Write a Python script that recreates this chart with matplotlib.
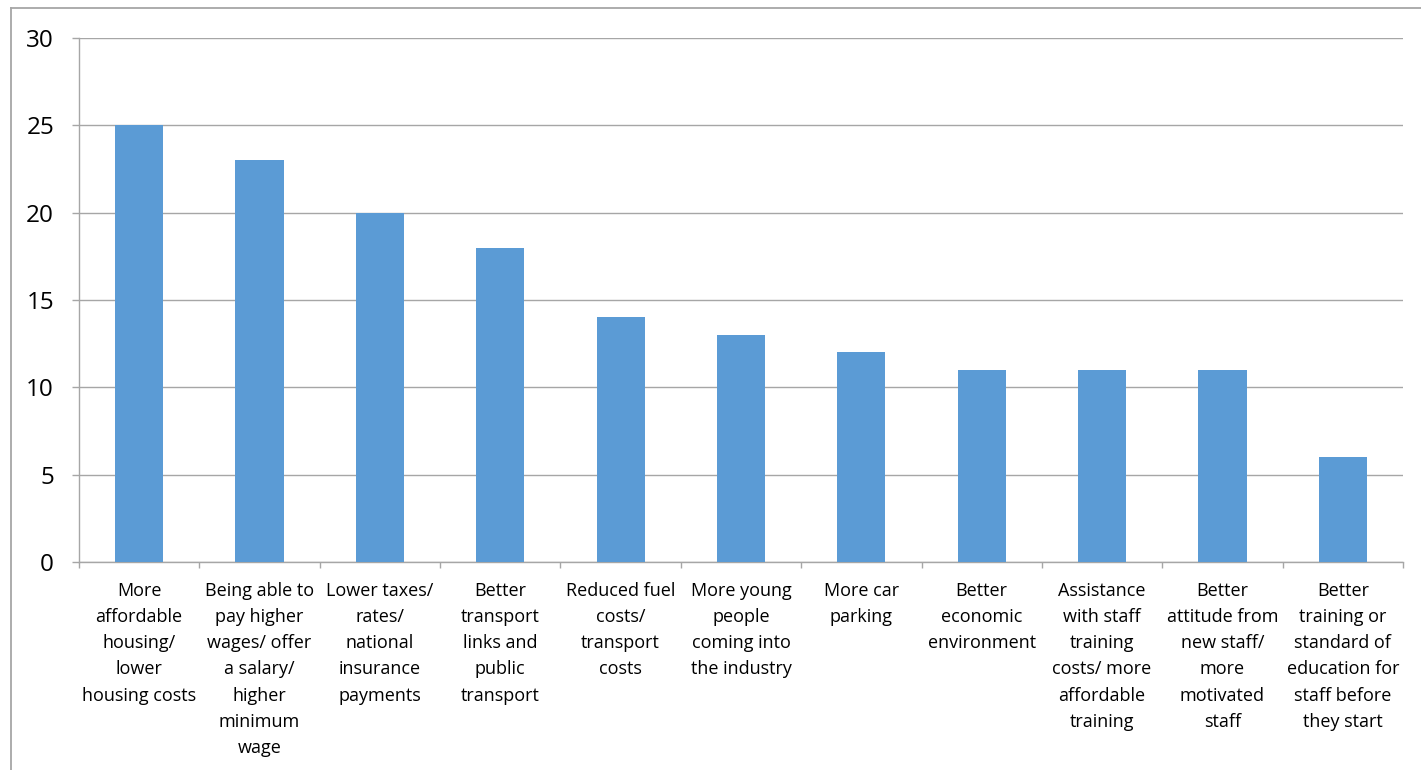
import matplotlib
matplotlib.use("Agg")
import matplotlib.pyplot as plt
from matplotlib.lines import Line2D
from matplotlib.ticker import FixedLocator

categories = [
    "More\naffordable\nhousing/\nlower\nhousing costs",
    "Being able to\npay higher\nwages/ offer\na salary/\nhigher\nminimum\nwage",
    "Lower taxes/\nrates/\nnational\ninsurance\npayments",
    "Better\ntransport\nlinks and\npublic\ntransport",
    "Reduced fuel\ncosts/\ntransport\ncosts",
    "More young\npeople\ncoming into\nthe industry",
    "More car\nparking",
    "Better\neconomic\nenvironment",
    "Assistance\nwith staff\ntraining\ncosts/ more\naffordable\ntraining",
    "Better\nattitude from\nnew staff/\nmore\nmotivated\nstaff",
    "Better\ntraining or\nstandard of\neducation for\nstaff before\nthey start",
]
values = [25, 23, 20, 18, 14, 13, 12, 11, 11, 11, 6]
y_ticks = [0, 5, 10, 15, 20, 25, 30]

plt.rcParams['font.family'] = ['Open Sans', 'DejaVu Sans']

W, H = 1421, 770
fig = plt.figure(figsize=(W / 100, H / 100), dpi=100)
ax = fig.add_axes([79 / W, 1 - 562 / H, (1403 - 79) / W, (562 - 38) / H])

x = list(range(len(values)))
ax.bar(x, values, width=0.4, color="#5B9BD5", zorder=3)
ax.set_xlim(-0.5, len(values) - 0.5)
ax.set_ylim(0, 30)
ax.set_yticks(y_ticks)
ax.set_yticklabels([str(v) for v in y_ticks], fontsize=17.5, color="#000000")
ax.yaxis.grid(True, color="#A6A6A6", linewidth=1, zorder=0)
ax.tick_params(axis='y', length=5, width=1, color="#A6A6A6", pad=13)

ax.set_xticks(x)
ax.set_xticklabels(categories, fontsize=13, linespacing=1.58, va='top')
ax.tick_params(axis='x', length=0, pad=14.5)
ax.xaxis.set_minor_locator(FixedLocator([i + 0.5 for i in range(-1, len(values))]))
ax.tick_params(axis='x', which='minor', length=4.5, width=1, color="#A6A6A6")

for s in ['top', 'right']:
    ax.spines[s].set_visible(False)
for s in ['left', 'bottom']:
    ax.spines[s].set_color("#A6A6A6")
    ax.spines[s].set_linewidth(1)

# outer chart frame
fig.add_artist(Line2D([11 / W, 11 / W], [0, 1 - 8 / H], transform=fig.transFigure,
                      color="#A6A6A6", linewidth=1.3))
fig.add_artist(Line2D([11 / W, 1], [1 - 8 / H, 1 - 8 / H], transform=fig.transFigure,
                      color="#A6A6A6", linewidth=1.3))

fig.savefig("out.png", dpi=100)
